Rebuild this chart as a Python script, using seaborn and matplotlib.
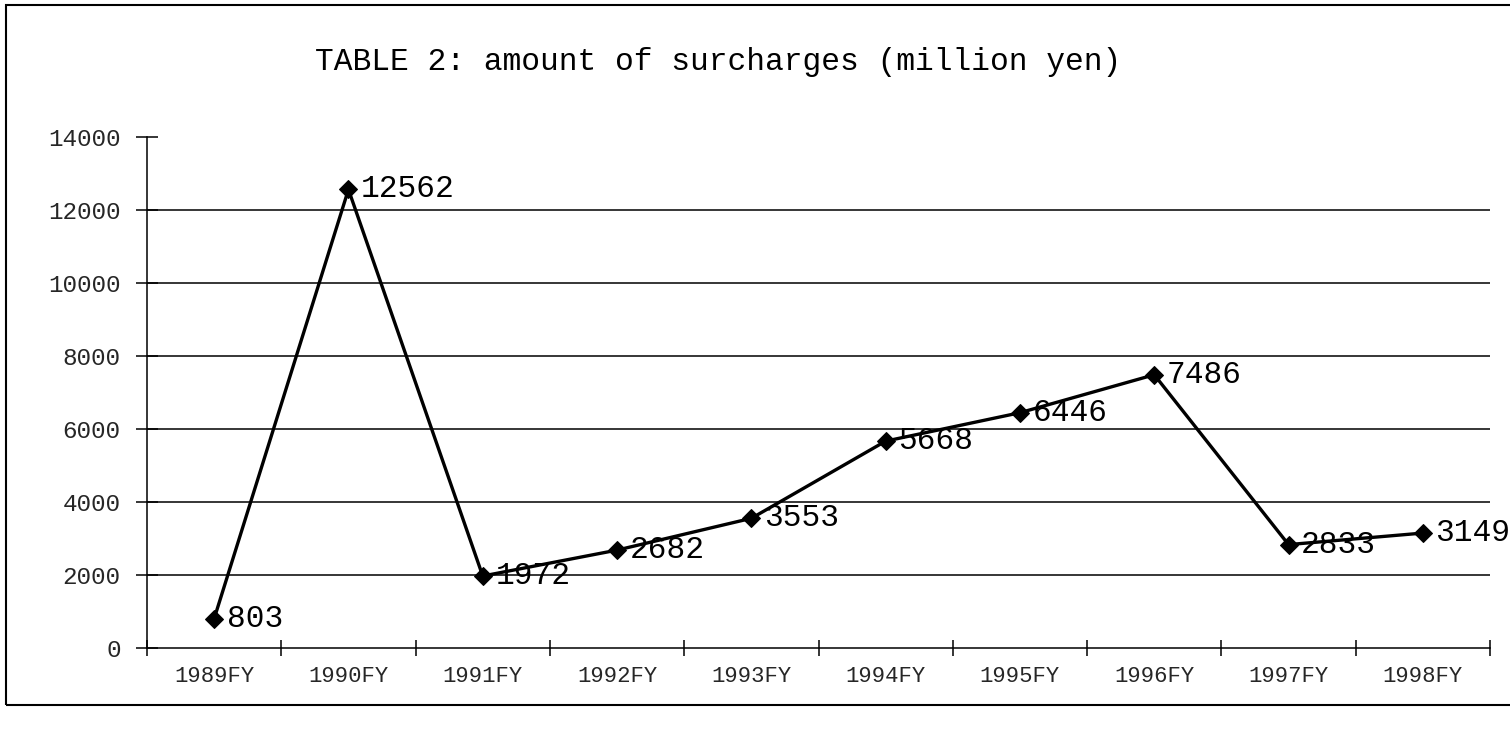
import matplotlib
matplotlib.use("Agg")
import matplotlib.pyplot as plt
import matplotlib.patches as mpatches
from matplotlib.ticker import FixedLocator, NullFormatter
import seaborn as sns
import pandas as pd

categories = ["1989FY", "1990FY", "1991FY", "1992FY", "1993FY",
              "1994FY", "1995FY", "1996FY", "1997FY", "1998FY"]
values = [803, 12562, 1972, 2682, 3553, 5668, 6446, 7486, 2833, 3149]
yticks = [0, 2000, 4000, 6000, 8000, 10000, 12000, 14000]
title = "TABLE 2: amount of surcharges (million yen)"

sns.set_theme(style="white")
plt.rcParams['font.family'] = ['Liberation Mono', 'DejaVu Sans Mono']

df = pd.DataFrame({"year": categories, "amount": values})

fig = plt.figure(figsize=(15.10, 7.33), dpi=100)
ax = fig.add_axes([147/1510, 1-648/733, (1490-147)/1510, (648-137)/733])

sns.lineplot(data=df, x="year", y="amount", ax=ax, color="black",
             linewidth=2.4, marker="D", markersize=9, markeredgecolor="black",
             sort=False)

ax.set_ylim(0, 14000)
ax.set_xlim(-0.5, len(categories) - 0.5)
ax.set_yticks(yticks)
ax.set_yticklabels([str(v) for v in yticks], fontsize=17.5)
ax.yaxis.grid(True, color="black", linewidth=1.1)
gl = ax.get_ygridlines()
gl[0].set_visible(False)
gl[-1].set_visible(False)

# x ticks: boundaries as major ticks, labels at centres
ax.xaxis.set_major_locator(FixedLocator([i - 0.5 for i in range(len(categories) + 1)]))
ax.xaxis.set_major_formatter(NullFormatter())
ax.xaxis.set_minor_locator(FixedLocator(list(range(len(categories)))))
ax.set_xticklabels(categories, minor=True, fontsize=16)
ax.tick_params(axis="x", which="major", direction="inout", length=12, width=1.1, color="black", bottom=True)
ax.tick_params(axis="x", which="minor", length=0, pad=13, bottom=True)
ax.tick_params(axis="y", direction="inout", length=16, width=1.1, color="black", left=True, pad=11)
ax.set_xlabel("")
ax.set_ylabel("")

for s in ["top", "right"]:
    ax.spines[s].set_visible(False)
for s in ["left", "bottom"]:
    ax.spines[s].set_color("black")
    ax.spines[s].set_linewidth(1.1)

for i, v in enumerate(values):
    ax.annotate(str(v), (i, v), xytext=(9, 0), textcoords="offset points",
                va="center", ha="left", fontsize=22.5, color="black")

fig.text(718/1510, 1-62/733, title, ha="center", va="center", fontsize=22.5, color="black")

rect = mpatches.Rectangle((6/1510, 1-705/733), 1.2, (705-5)/733,
                          transform=fig.transFigure, fill=False,
                          edgecolor="black", linewidth=1.5, clip_on=False)
fig.patches.append(rect)

fig.savefig("out.png", dpi=100)
